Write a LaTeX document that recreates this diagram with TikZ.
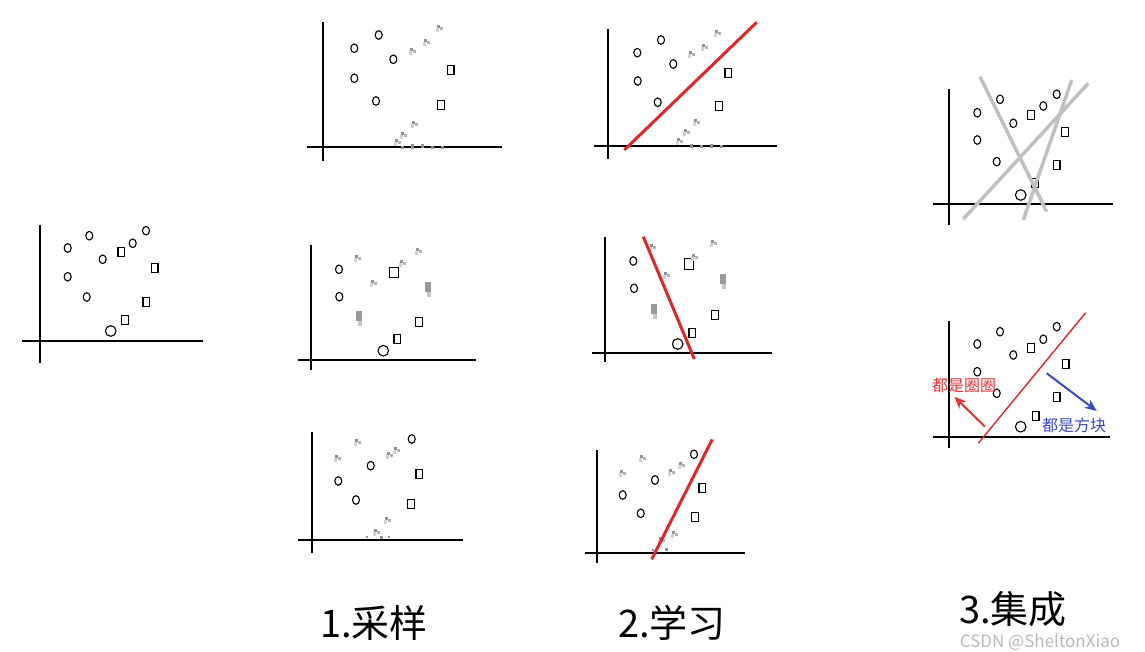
\documentclass[tikz,border=0pt]{standalone}
\usepackage{fontspec}
\newfontfamily\cjk{Noto Sans CJK SC}
\usetikzlibrary{arrows.meta}
\definecolor{linered}{RGB}{222,40,40}
\definecolor{labelred}{RGB}{228,52,52}
\definecolor{labelblue}{RGB}{58,72,200}
\definecolor{votegray}{RGB}{192,192,192}
\tikzset{
  axis/.style={line width=1.8pt},
  ring/.pic={\draw[line width=1.1pt] (0,0) ellipse [x radius=3.5pt, y radius=4.3pt];},
  bigring/.pic={\draw[line width=1.1pt] (0,0) circle [radius=5.3pt];},
  box/.pic={\draw[line width=1.1pt] (-3.3pt,-4.5pt) rectangle (3.3pt,4.5pt);},
  bigbox/.pic={\draw[line width=1.1pt] (-4.6pt,-5.2pt) rectangle (4.6pt,5.2pt);},
  gone/.pic={\fill[gray!85] (-3pt,0pt) rectangle (0pt,3pt);
    \fill[gray!60] (0pt,-2pt) rectangle (3pt,1pt);
    \fill[gray!35] (-4pt,-4pt) rectangle (-1pt,0pt);},
  blotch/.pic={\fill[gray!80] (-3pt,-4pt) rectangle (3pt,6pt);
    \fill[gray!45] (-1pt,-9pt) rectangle (3pt,-4pt);},
  speck/.style={fill=gray!85},
  fit line/.style={linered, line width=3pt},
  vote line/.style={votegray, line width=3.5pt},
  hint/.style={line width=2pt, -{Stealth[length=12pt,width=10pt]}},
  title/.style={font=\cjk\fontsize{38}{40}\selectfont, inner sep=0pt},
  hintlabel/.style={font=\cjk\fontsize{16}{17}\selectfont, inner sep=0pt},
}

\begin{document}
\begin{tikzpicture}[x=1pt,y=-1pt]
    \useasboundingbox (0,0) rectangle (1145,652);
    %whole data
    \draw[axis] (40,225) -- (40,363);
    \draw[axis] (22,341) -- (203,341);
    \pic at (67.7,248) {ring}; \pic at (89.3,235.7) {ring}; \pic at (102.7,259.3) {ring};
    \pic at (67.7,276.7) {ring}; \pic at (86.7,297) {ring}; \pic at (132.7,243.3) {ring};
    \pic at (146,230.7) {ring}; \pic at (110.7,331) {bigring};
    \pic at (121.3,251.7) {box}; \pic at (154.7,268.3) {box};
    \pic at (146.3,301.7) {box}; \pic at (125,319.7) {box};

    %sample 1
    \draw[axis] (323.3,22) -- (323.3,161);
    \draw[axis] (307,147.3) -- (502,147.3);
    \pic at (354.3,48.3) {ring}; \pic at (378.7,35) {ring}; \pic at (393.3,59.3) {ring};
    \pic at (354.3,78.3) {ring}; \pic at (376,101) {ring};
    \pic at (450.7,70) {box}; \pic at (441,105) {box};
    \pic at (426.7,41.7) {gone}; \pic at (440,28.3) {gone}; \pic at (413,51) {gone};
    \pic at (415,124) {gone}; \pic at (404,135) {gone}; \pic at (398,142) {gone};
    \fill[speck] (401,146) rectangle ++(3,3); \fill[speck] (411,144) rectangle ++(3,5);
    \fill[speck] (421,144) rectangle ++(3,4); \fill[speck] (431,146) rectangle ++(3,3);
    \fill[speck] (441,146) rectangle ++(3,3);

    %sample 2
    \draw[axis] (311,245) -- (311,370);
    \draw[axis] (298.3,360) -- (476,360);
    \pic at (339,269.3) {ring}; \pic at (339.3,296.7) {ring}; \pic at (383.3,350.7) {bigring};
    \pic at (394,272.3) {bigbox}; \pic at (419,322.3) {box}; \pic at (397.3,339.3) {box};
    \pic at (358.3,258.3) {gone}; \pic at (374,282.7) {gone}; \pic at (403.3,263.3) {gone};
    \pic at (419.3,250.7) {gone};
    \pic at (359.3,317.3) {blotch}; \pic at (428.3,288.3) {blotch};

    %sample 3
    \draw[axis] (311.7,432.3) -- (311.7,552.7);
    \draw[axis] (298.3,540) -- (463.3,540);
    \pic at (411.7,439) {ring}; \pic at (370.7,465.7) {ring}; \pic at (338.3,481) {ring};
    \pic at (356,500) {ring};
    \pic at (419.3,474.3) {box}; \pic at (411,504) {box};
    \pic at (358.3,442.3) {gone}; \pic at (338.3,458.3) {gone}; \pic at (390,455) {gone};
    \pic at (396.7,450) {gone}; \pic at (388.3,520) {gone}; \pic at (376.7,531.7) {gone};
    \fill[speck] (366,536) rectangle ++(2,2); \fill[speck] (380,536) rectangle ++(3,3);
    \fill[speck] (388,536) rectangle ++(2,2);

    %learner 1
    \draw[axis] (608.3,29) -- (608.3,159);
    \draw[axis] (594.3,146) -- (776.7,146);
    \pic at (637.3,52.7) {ring}; \pic at (661,40) {ring}; \pic at (673.3,64) {ring};
    \pic at (637.7,81) {ring}; \pic at (657.7,102.3) {ring};
    \pic at (728.3,73.3) {box}; \pic at (719,105.7) {box};
    \pic at (691.7,54.3) {gone}; \pic at (705,46.7) {gone}; \pic at (718.3,33.3) {gone};
    \pic at (696.7,122.3) {gone}; \pic at (686.7,132) {gone}; \pic at (680,141) {gone};
    \fill[speck] (690,144) rectangle ++(3,4); \fill[speck] (700,145) rectangle ++(3,3);
    \fill[speck] (710,144) rectangle ++(3,4); \fill[speck] (720,145) rectangle ++(3,3);
    \draw[fit line] (624.3,150) -- (756.7,22.3);

    %learner 2
    \draw[axis] (605,236.7) -- (605,362.3);
    \draw[axis] (592.3,353.3) -- (771.7,353.3);
    \pic at (633.3,261) {ring}; \pic at (634,288.3) {ring}; \pic at (677.7,344) {bigring};
    \pic at (689,264) {bigbox}; \pic at (715,315) {box}; \pic at (692.3,332.7) {box};
    \pic at (653.3,246.7) {gone}; \pic at (666.7,275) {gone}; \pic at (695,256.7) {gone};
    \pic at (714.3,243.3) {gone};
    \pic at (654.3,310) {blotch}; \pic at (723.3,280) {blotch};
    \draw[fit line] (643.3,236.7) -- (694.3,359);

    %learner 3
    \draw[axis] (597.3,450) -- (597.3,563.3);
    \draw[axis] (585,552.7) -- (745,552.7);
    \pic at (694,454.3) {ring}; \pic at (655,480) {ring}; \pic at (622.7,495) {ring};
    \pic at (640.7,513.3) {ring};
    \pic at (702.3,488.3) {box}; \pic at (695,517.3) {box};
    \pic at (643.3,458.3) {gone}; \pic at (623.3,472.7) {gone}; \pic at (671.7,471.7) {gone};
    \pic at (681.7,465) {gone}; \pic at (675,534) {gone}; \pic at (661.7,540) {gone};
    \fill[speck] (652,549) rectangle ++(2,2); \fill[speck] (665,548) rectangle ++(3,3);
    \draw[fit line] (712.3,439.3) -- (651.7,559.3);

    %vote
    \draw[axis] (949,89) -- (949,225);
    \draw[axis] (932.7,204.3) -- (1112.7,204.3);
    \pic at (977.3,112.7) {ring}; \pic at (1000,99.3) {ring}; \pic at (1013.3,123.3) {ring};
    \pic at (977.3,140) {ring}; \pic at (996.7,161.7) {ring}; \pic at (1043.3,106) {ring};
    \pic at (1056.7,94.3) {ring}; \pic at (1020.7,195) {bigring};
    \pic at (1031,115) {box}; \pic at (1065,132.3) {box};
    \pic at (1056.7,165) {box}; \pic at (1035,183.3) {box};
    \draw[vote line] (980,76.7) -- (1046.7,211.7);
    \draw[vote line] (963.3,219) -- (1088.3,83.3);
    \draw[vote line] (1071.7,80) -- (1023.3,220);

    %result
    \draw[axis] (949.3,320.7) -- (949.3,448.3);
    \draw[axis] (932.7,436.7) -- (1110,436.7);
    \pic at (977.3,344) {ring}; \pic at (1000,331.7) {ring}; \pic at (1013.3,355) {ring};
    \pic at (977.3,371.7) {ring}; \pic at (996.7,393.3) {ring}; \pic at (1043.3,339.3) {ring};
    \pic at (1056.7,326.7) {ring}; \pic at (1020.7,426.7) {bigring};
    \pic at (1031,347.7) {box}; \pic at (1065.7,364.3) {box};
    \pic at (1056.7,397.3) {box}; \pic at (1035.7,415.7) {box};
    \draw[linered, line width=1.4pt] (978.3,443.3) -- (1085.7,312.7);
    \node[hintlabel, text=labelred] (circles) at (964,385) {都是圈圈};
    \node[hintlabel, text=labelblue] (squares) at (1074,425.5) {都是方块};
    \coordinate (redtail) at (985,426.7);
    \coordinate (redtip) at (954.3,396.7);
    \coordinate (bluetail) at (1046.7,373.3);
    \coordinate (bluetip) at (1096.7,411);
    \draw[hint, labelred] (redtail) -- (redtip);
    \draw[hint, labelblue] (bluetail) -- (bluetip);

    %steps
    \node[title] (sampling) at (374,623) {1.采样};
    \node[title] (learning) at (672,623) {2.学习};
    \node[title] (ensemble) at (1013,609) {3.集成};
    \node[font=\cjk\fontsize{17}{18}\selectfont, text=gray!55, inner sep=0pt] (mark) at (1040,642) {CSDN @SheltonXiao};
\end{tikzpicture}
\end{document}
